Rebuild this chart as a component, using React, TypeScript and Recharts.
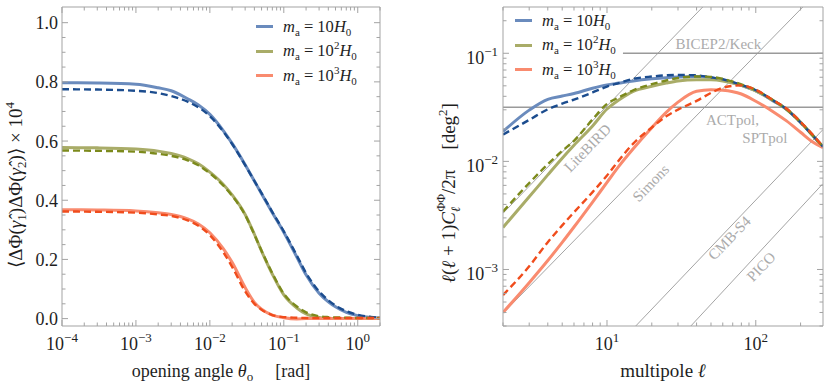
import React from 'react';
import { LineChart, Line, XAxis, YAxis, Legend, ReferenceDot } from 'recharts';

const SERIF = '"Liberation Serif", "DejaVu Serif", serif';
const FRAME = '#a3a3a3';
const INK = '#1e1e1e';
const NOTE = '#ababab';
const GUIDE = '#9a9a9a';

const BLUE = '#6a8bbd';
const GREEN = '#a9ac68';
const SALMON = '#f98b6f';
const BLUE_D = '#1b4c8e';
const GREEN_D = '#7c8a1c';
const RED_D = '#f04c1c';

// ---------- left panel: correlation vs opening angle ----------
const theta = [1e-4, 3e-4, 1e-3, 2e-3, 3e-3, 5e-3, 7e-3, 1e-2, 1.5e-2, 2e-2, 3e-2, 4e-2, 5e-2, 7e-2, 0.1, 0.15, 0.2, 0.3, 0.4, 0.5, 0.7, 1, 1.5, 2];
const corrBlue = [0.797, 0.796, 0.792, 0.78, 0.77, 0.743, 0.722, 0.69, 0.637, 0.592, 0.52, 0.465, 0.422, 0.358, 0.292, 0.208, 0.148, 0.086, 0.057, 0.04, 0.021, 0.01, 0.004, 0.002];
const corrBlueFit = [0.775, 0.774, 0.77, 0.762, 0.752, 0.733, 0.714, 0.684, 0.634, 0.59, 0.519, 0.465, 0.424, 0.36, 0.295, 0.213, 0.154, 0.092, 0.062, 0.044, 0.025, 0.013, 0.006, 0.003];
const corrGreen = [0.578, 0.577, 0.573, 0.566, 0.558, 0.541, 0.523, 0.495, 0.455, 0.418, 0.352, 0.285, 0.228, 0.15, 0.08, 0.036, 0.016, 0.004, 0.001, 0, 0, 0, 0, 0];
const corrGreenFit = [0.568, 0.567, 0.564, 0.557, 0.55, 0.535, 0.518, 0.491, 0.451, 0.415, 0.35, 0.284, 0.229, 0.153, 0.084, 0.041, 0.021, 0.008, 0.005, 0.004, 0.003, 0.002, 0.002, 0.002];
const corrRed = [0.368, 0.367, 0.364, 0.358, 0.352, 0.337, 0.32, 0.29, 0.238, 0.19, 0.105, 0.055, 0.032, 0.012, 0.003, -0.001, 0, 0, 0, 0, 0, 0, 0, 0];
const corrRedFit = [0.362, 0.361, 0.358, 0.352, 0.347, 0.332, 0.314, 0.282, 0.226, 0.175, 0.092, 0.05, 0.03, 0.012, 0.005, 0.003, 0.002, 0.002, 0.002, 0.002, 0.002, 0.002, 0.002, 0.002];

const thetaMajor = [1e-4, 1e-3, 1e-2, 1e-1, 1];
const corrMajor = [0, 0.2, 0.4, 0.6, 0.8, 1.0];

// ---------- right panel: angular power spectrum ----------
const ell = [2, 3, 4, 5, 6, 8, 10, 12, 15, 20, 25, 30, 40, 50, 60, 80, 100, 130, 160, 200, 240, 283];
const clBlue = [0.0189, 0.0298, 0.0375, 0.0402, 0.0425, 0.0475, 0.051, 0.053, 0.0555, 0.058, 0.0595, 0.0603, 0.061, 0.0595, 0.0565, 0.0505, 0.045, 0.0365, 0.0305, 0.023, 0.0175, 0.0136];
const clBlueFit = [0.0177, 0.0242, 0.0303, 0.0342, 0.0372, 0.0434, 0.0492, 0.053, 0.058, 0.061, 0.0625, 0.063, 0.0625, 0.06, 0.0575, 0.051, 0.0455, 0.0368, 0.0305, 0.0228, 0.0175, 0.0137];
const clGreen = [0.00245, 0.0047, 0.0075, 0.0107, 0.0141, 0.0213, 0.0305, 0.037, 0.0445, 0.0495, 0.053, 0.0555, 0.057, 0.0568, 0.0555, 0.0505, 0.045, 0.0368, 0.0305, 0.023, 0.0175, 0.0136];
const clGreenFit = [0.00343, 0.0063, 0.0094, 0.0125, 0.0155, 0.0245, 0.034, 0.039, 0.0455, 0.0518, 0.056, 0.059, 0.061, 0.0605, 0.058, 0.0515, 0.0458, 0.037, 0.0305, 0.023, 0.0175, 0.0137];
const clRed = [0.0004, 0.000755, 0.00121, 0.00178, 0.00247, 0.0042, 0.0064, 0.009, 0.0131, 0.0205, 0.0284, 0.0353, 0.0445, 0.046, 0.0455, 0.042, 0.036, 0.029, 0.0238, 0.0186, 0.0152, 0.0134];
const clRedFit = [0.00058, 0.00107, 0.00179, 0.00256, 0.00338, 0.0052, 0.0074, 0.0102, 0.0146, 0.0206, 0.0261, 0.0301, 0.0363, 0.043, 0.048, 0.0505, 0.046, 0.037, 0.031, 0.0232, 0.0178, 0.0137];

// experiment sensitivities: [ell, value] end points
const bicep = [[12.8, 0.1], [283, 0.1]];
const actpol = [[2, 0.0316], [283, 0.0316]];
const litebird = [[2, 0.00331], [44, 0.268]];
const simons = [[2, 0.000393], [207, 0.268]];
const cmbs4 = [[15.6, 0.0003], [282, 0.0196]];
const pico = [[36.6, 0.0003], [282, 0.0062]];

const noteText = ['BICEP2/Keck', 'ACTpol,', 'SPTpol', 'LiteBIRD', 'Simons', 'CMB-S4', 'PICO'];
const noteEll = [56, 69.7, 115, 7.4, 19.7, 66.5, 108.7];
const noteVal = [0.1225, 0.0244, 0.0165, 0.0133, 0.0063, 0.00195, 0.00106];
const noteTilt = [0, 0, 0, -46, -46, -46, -46];

const ellMajor = [10, 100];
const clMajor = [1e-3, 1e-2, 1e-1];

const seriesNames = ['m_a = 10 H_0', 'm_a = 10^2 H_0', 'm_a = 10^3 H_0'];
const massPower = ['', '2', '3'];

// ---------- helpers ----------
const isDecade = (v: number) => Math.abs(Math.log10(v) - Math.round(Math.log10(v))) < 1e-6;
const withMinors = (majors: number[], lo: number, hi: number) => {
  const out: number[] = [];
  const first = majors[0] / 10;
  [first, ...majors].forEach((m) => {
    for (let k = 1; k <= 9; k++) {
      const v = k * m;
      if (v >= lo * 0.999 && v <= hi * 1.001) out.push(v);
    }
  });
  return out;
};
const corrTicks = Array.from({ length: 21 }, (_, i) => Math.round(i * 5) / 100);
const isCorrMajor = (v: number) => corrMajor.some((m) => Math.abs(m - v) < 1e-6);

const expOf = (v: number) => String(Math.round(Math.log10(v))).replace('-', '\u2212');

type Side = 'bottom' | 'top' | 'left' | 'right';
const makeTick = (
  side: Side,
  isMajor: (v: number) => boolean,
  label?: (x: number, y: number, v: number) => React.ReactNode
) => (props: any) => {
  const { x, y, payload } = props;
  const v = payload.value;
  const major = isMajor(v);
  const len = major ? 6 : 3.5;
  const d =
    side === 'bottom' ? [0, -len] : side === 'top' ? [0, len] : side === 'left' ? [len, 0] : [-len, 0];
  return (
    <g>
      <line x1={x} y1={y} x2={x + d[0]} y2={y + d[1]} stroke={FRAME} strokeWidth={1} />
      {label && major ? label(x, y, v) : null}
    </g>
  );
};

const powLabelBottom = (x: number, y: number, v: number) => (
  <text x={x} y={y + 24} textAnchor="middle" fontFamily={SERIF} fontSize={18} fill={INK}>
    10<tspan dy={-8} fontSize={13}>{expOf(v)}</tspan>
  </text>
);
const powLabelLeft = (x: number, y: number, v: number) => (
  <text x={x - 5} y={y + 11} textAnchor="end" fontFamily={SERIF} fontSize={18} fill={INK}>
    10<tspan dy={-8} fontSize={13}>{expOf(v)}</tspan>
  </text>
);
const linLabelLeft = (x: number, y: number, v: number) => (
  <text x={x - 4} y={y} dy="0.36em" textAnchor="end" fontFamily={SERIF} fontSize={18} fill={INK}>
    {v.toFixed(1)}
  </text>
);

const sub = (t: string) => (
  <span style={{ fontSize: 11, position: 'relative', top: 4 }}>{t}</span>
);
const sup = (t: string) => (
  <span style={{ fontSize: 11, position: 'relative', top: -7 }}>{t}</span>
);

const renderLegend = (props: any) => {
  const items = (props.payload || [])
    .filter((p: any) => seriesNames.includes(p.value))
    .sort((a: any, b: any) => seriesNames.indexOf(a.value) - seriesNames.indexOf(b.value));
  return (
    <div style={{ fontFamily: SERIF, fontSize: 16.5, color: INK, whiteSpace: 'nowrap' }}>
      {items.map((p: any) => {
        const k = seriesNames.indexOf(p.value);
        return (
          <div key={p.value} style={{ display: 'flex', alignItems: 'center', height: 24.5 }}>
            <span style={{ display: 'inline-block', width: 17, height: 3, background: p.color, marginRight: 10 }} />
            <span>
              <i>m</i>
              {sub('a')} = 10{massPower[k] ? sup(massPower[k]) : null}
              <i>H</i>
              {sub('0')}
            </span>
          </div>
        );
      })}
    </div>
  );
};

const LeftXTitle = (props: any) => {
  const { viewBox } = props;
  return (
    <text x={viewBox.x + viewBox.width / 2} y={viewBox.y + 51} textAnchor="middle" fontFamily={SERIF} fontSize={18} fill={INK}>
      opening angle <tspan fontStyle="italic">θ</tspan>
      <tspan fontSize={13} dy={4}>o</tspan>
      <tspan dy={-4} dx={22}>[rad]</tspan>
    </text>
  );
};

const LeftYTitle = () => (
  <text transform="translate(22,185) rotate(-90)" textAnchor="middle" fontFamily={SERIF} fontSize={19} fill={INK}>
    ⟨ΔΦ(<tspan fontStyle="italic">γ̂</tspan>
    <tspan fontSize={13} dy={4}>1</tspan>
    <tspan dy={-4}>)ΔΦ(</tspan>
    <tspan fontStyle="italic">γ̂</tspan>
    <tspan fontSize={13} dy={4}>2</tspan>
    <tspan dy={-4}>)⟩ × 10</tspan>
    <tspan fontSize={13} dy={-8}>4</tspan>
  </text>
);

const RightXTitle = (props: any) => {
  const { viewBox } = props;
  return (
    <text x={viewBox.x + viewBox.width / 2} y={viewBox.y + 51} textAnchor="middle" fontFamily={SERIF} fontSize={19} fill={INK}>
      multipole <tspan fontStyle="italic">ℓ</tspan>
    </text>
  );
};

const RightYTitle = () => (
  <text transform="translate(35,193) rotate(-90)" textAnchor="middle" fontFamily={SERIF} fontSize={19} fill={INK}>
    <tspan fontStyle="italic">ℓ</tspan>(<tspan fontStyle="italic">ℓ</tspan> + 1)
    <tspan fontStyle="italic">C</tspan>
    <tspan fontSize={13} dy={5} fontStyle="italic">ℓ</tspan>
    <tspan fontSize={12} dy={-15} dx={-5}>ΦΦ</tspan>
    <tspan dy={10}>/2π</tspan>
    <tspan dx={20}>[deg</tspan>
    <tspan fontSize={13} dy={-8}>2</tspan>
    <tspan dy={8}>]</tspan>
  </text>
);

const NoteLabel = (props: any) => {
  const { viewBox, caption, tilt } = props;
  const cx = viewBox.x + (viewBox.width || 0) / 2;
  const cy = viewBox.y + (viewBox.height || 0) / 2;
  return (
    <text
      x={cx}
      y={cy}
      transform={`rotate(${tilt} ${cx} ${cy})`}
      textAnchor="middle"
      dominantBaseline="central"
      fill={NOTE}
      fontFamily={SERIF}
      fontSize={15}
    >
      {caption}
    </text>
  );
};

const toPts = (pts: number[][]) => pts.map(([l, v]) => ({ l, v }));

export default function App() {
  const leftData = theta.map((t, i) => ({
    t,
    blue: corrBlue[i],
    blueFit: corrBlueFit[i],
    green: corrGreen[i],
    greenFit: corrGreenFit[i],
    red: corrRed[i],
    redFit: corrRedFit[i],
  }));
  const rightData = ell.map((l, i) => ({
    l,
    blue: clBlue[i],
    blueFit: clBlueFit[i],
    green: clGreen[i],
    greenFit: clGreenFit[i],
    red: clRed[i],
    redFit: clRedFit[i],
  }));

  const thetaTicks = withMinors(thetaMajor, 1e-4, 2);
  const ellTicks = withMinors(ellMajor, 2, 283);
  const clTicks = withMinors(clMajor, 3e-4, 0.268);

  const guides = [bicep, actpol, litebird, simons, cmbs4, pico];

  return (
    <div style={{ position: 'absolute', left: 0, top: 0, width: 830, height: 388, background: '#fff' }}>
      <div style={{ position: 'absolute', left: 0, top: 0 }}>
        <LineChart width={420} height={388} data={leftData} margin={{ top: 6, right: 39, bottom: 12, left: 10 }}>
          <XAxis
            dataKey="t"
            type="number"
            scale="log"
            domain={[1e-4, 2]}
            allowDataOverflow
            ticks={thetaTicks}
            interval={0}
            tickSize={0}
            tickMargin={0}
            height={50}
            axisLine={{ stroke: FRAME }}
            tick={makeTick('bottom', isDecade, powLabelBottom)}
            label={<LeftXTitle />}
          />
          <XAxis
            xAxisId="top"
            orientation="top"
            dataKey="t"
            type="number"
            scale="log"
            domain={[1e-4, 2]}
            allowDataOverflow
            ticks={thetaTicks}
            interval={0}
            tickSize={0}
            tickMargin={0}
            height={1}
            axisLine={{ stroke: FRAME }}
            tick={makeTick('top', isDecade)}
          />
          <YAxis
            type="number"
            domain={[-0.025, 1.053]}
            allowDataOverflow
            ticks={corrTicks}
            interval={0}
            tickSize={0}
            tickMargin={0}
            width={52}
            axisLine={{ stroke: FRAME }}
            tick={makeTick('left', isCorrMajor, linLabelLeft)}
            label={<LeftYTitle />}
          />
          <YAxis
            yAxisId="right"
            orientation="right"
            type="number"
            domain={[-0.025, 1.053]}
            allowDataOverflow
            ticks={corrTicks}
            interval={0}
            tickSize={0}
            tickMargin={0}
            width={1}
            axisLine={{ stroke: FRAME }}
            tick={makeTick('right', isCorrMajor)}
          />
          <Legend
            layout="horizontal"
            verticalAlign="middle"
            align="center"
            content={renderLegend}
            wrapperStyle={{ top: 14.5, left: 256, width: 150, height: 75 }}
          />
          <Line xAxisId="top" yAxisId="right" dataKey="blue" stroke="none" dot={false} legendType="none" isAnimationActive={false} />
          <Line dataKey="blue" name={seriesNames[0]} stroke={BLUE} strokeWidth={3} dot={false} type="monotone" isAnimationActive={false} />
          <Line dataKey="green" name={seriesNames[1]} stroke={GREEN} strokeWidth={3} dot={false} type="monotone" isAnimationActive={false} />
          <Line dataKey="red" name={seriesNames[2]} stroke={SALMON} strokeWidth={3} dot={false} type="monotone" isAnimationActive={false} />
          <Line dataKey="blueFit" stroke={BLUE_D} strokeWidth={2.4} strokeDasharray="7 4" dot={false} type="monotone" legendType="none" isAnimationActive={false} />
          <Line dataKey="greenFit" stroke={GREEN_D} strokeWidth={2.4} strokeDasharray="7 4" dot={false} type="monotone" legendType="none" isAnimationActive={false} />
          <Line dataKey="redFit" stroke={RED_D} strokeWidth={2.4} strokeDasharray="7 4" dot={false} type="monotone" legendType="none" isAnimationActive={false} />
        </LineChart>
      </div>

      <div style={{ position: 'absolute', left: 420, top: 0 }}>
        <LineChart width={410} height={388} data={rightData} margin={{ top: 6, right: 6, bottom: 12, left: 31 }}>
          <XAxis
            dataKey="l"
            type="number"
            scale="log"
            domain={[2, 283]}
            allowDataOverflow
            ticks={ellTicks}
            interval={0}
            tickSize={0}
            tickMargin={0}
            height={50}
            axisLine={{ stroke: FRAME }}
            tick={makeTick('bottom', isDecade, powLabelBottom)}
            label={<RightXTitle />}
          />
          <XAxis
            xAxisId="top"
            orientation="top"
            dataKey="l"
            type="number"
            scale="log"
            domain={[2, 283]}
            allowDataOverflow
            ticks={ellTicks}
            interval={0}
            tickSize={0}
            tickMargin={0}
            height={1}
            axisLine={{ stroke: FRAME }}
            tick={makeTick('top', isDecade)}
          />
          <YAxis
            type="number"
            scale="log"
            domain={[3e-4, 0.268]}
            allowDataOverflow
            ticks={clTicks}
            interval={0}
            tickSize={0}
            tickMargin={0}
            width={52}
            axisLine={{ stroke: FRAME }}
            tick={makeTick('left', isDecade, powLabelLeft)}
            label={<RightYTitle />}
          />
          <YAxis
            yAxisId="right"
            orientation="right"
            type="number"
            scale="log"
            domain={[3e-4, 0.268]}
            allowDataOverflow
            ticks={clTicks}
            interval={0}
            tickSize={0}
            tickMargin={0}
            width={1}
            axisLine={{ stroke: FRAME }}
            tick={makeTick('right', isDecade)}
          />
          <Legend
            layout="horizontal"
            verticalAlign="middle"
            align="center"
            content={renderLegend}
            wrapperStyle={{ top: 8.5, left: 95, width: 150, height: 75 }}
          />
          <Line xAxisId="top" yAxisId="right" dataKey="blue" stroke="none" dot={false} legendType="none" isAnimationActive={false} />
          {guides.map((g, i) => (
            <Line
              key={`g${i}`}
              data={toPts(g)}
              dataKey="v"
              stroke={GUIDE}
              strokeWidth={i < 2 ? 1.5 : 0.9}
              dot={false}
              legendType="none"
              isAnimationActive={false}
            />
          ))}
          {noteText.map((t, i) => (
            <ReferenceDot
              key={`n${i}`}
              x={noteEll[i]}
              y={noteVal[i]}
              r={0}
              fill="none"
              stroke="none"
              label={<NoteLabel caption={t} tilt={noteTilt[i]} />}
            />
          ))}
          <Line dataKey="blue" name={seriesNames[0]} stroke={BLUE} strokeWidth={3} dot={false} type="monotone" isAnimationActive={false} />
          <Line dataKey="green" name={seriesNames[1]} stroke={GREEN} strokeWidth={3} dot={false} type="monotone" isAnimationActive={false} />
          <Line dataKey="red" name={seriesNames[2]} stroke={SALMON} strokeWidth={3} dot={false} type="monotone" isAnimationActive={false} />
          <Line dataKey="blueFit" stroke={BLUE_D} strokeWidth={2.4} strokeDasharray="7 4" dot={false} type="monotone" legendType="none" isAnimationActive={false} />
          <Line dataKey="greenFit" stroke={GREEN_D} strokeWidth={2.4} strokeDasharray="7 4" dot={false} type="monotone" legendType="none" isAnimationActive={false} />
          <Line dataKey="redFit" stroke={RED_D} strokeWidth={2.4} strokeDasharray="7 4" dot={false} type="monotone" legendType="none" isAnimationActive={false} />
        </LineChart>
      </div>
    </div>
  );
}
